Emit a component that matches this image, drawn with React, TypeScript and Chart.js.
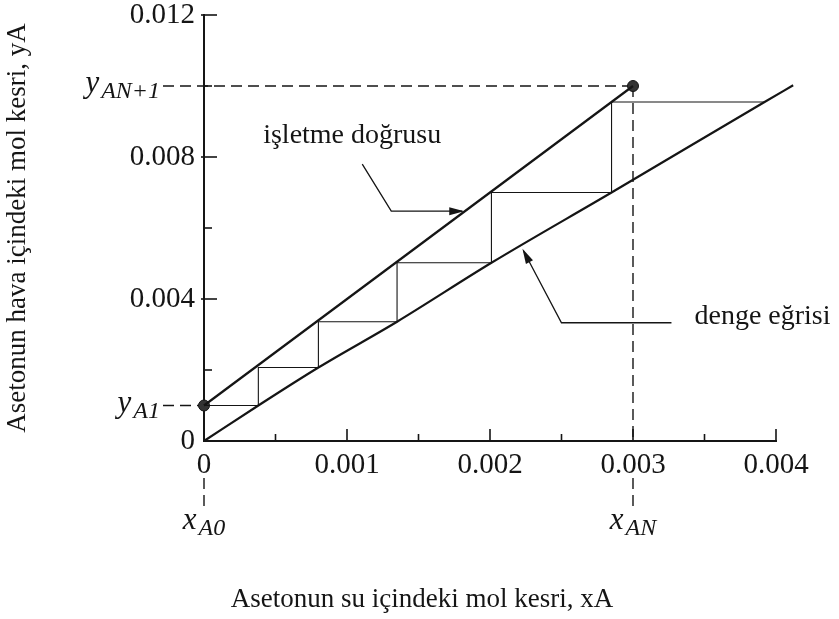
import React, { useEffect, useRef } from "react";
import { Chart, registerables } from "chart.js";

Chart.register(...registerables);

// ---- data ----
const xTickValues = [0, 0.001, 0.002, 0.003, 0.004];
const xTickLabels = ["0", "0.001", "0.002", "0.003", "0.004"];
const yTickValues = [0, 0.004, 0.008, 0.012];
const yTickLabels = ["0", "0.004", "0.008", "0.012"];
const xMinorTicks = [0.0005, 0.0015, 0.0025, 0.0035];
const yMinorTicks = [0.002, 0.006, 0.01];

// operating line (işletme doğrusu)
const operatingX = [0, 0.003];
const operatingY = [0.001, 0.01];
// equilibrium curve (denge eğrisi)
const equilibriumX = [0, 0.00038, 0.0008, 0.00135, 0.00201, 0.00285, 0.00392, 0.00412];
const equilibriumY = [0, 0.001, 0.00207, 0.00336, 0.00502, 0.007, 0.00955, 0.01002];
// stage staircase
const stairX = [0.00392, 0.00285, 0.00285, 0.00201, 0.00201, 0.00135, 0.00135, 0.0008, 0.0008, 0.00038, 0.00038, 0];
const stairY = [0.00955, 0.00955, 0.007, 0.007, 0.00502, 0.00502, 0.00336, 0.00336, 0.00207, 0.00207, 0.001, 0.001];
// end points (terminal compositions)
const endX = [0, 0.003];
const endY = [0.001, 0.01];

// guide labels
const guideX = [0, 0.003];
const guideXLabels = [["x", "A0"], ["x", "AN"]];
const guideY = [0.001, 0.01];
const guideYLabels = [["y", "A1"], ["y", "AN+1"]];

const opLabel = "işletme doğrusu";
const opArrowAt = [0.00182, 0.006475];
const eqLabel = "denge eğrisi";
const eqArrowAt = [0.00222, 0.0055];

const xTitle = "Asetonun su içindeki mol kesri, xA";
const yTitle = "Asetonun hava içindeki mol kesri, yA";

const FONT = "'Liberation Serif', 'DejaVu Serif', serif";
const INK = "#151515";

const toPts = (xs: number[], ys: number[]) => xs.map((v, i) => ({ x: v, y: ys[i] }));

function arrowHead(ctx: CanvasRenderingContext2D, fx: number, fy: number, tx: number, ty: number, len: number, half: number) {
  const a = Math.atan2(ty - fy, tx - fx);
  ctx.beginPath();
  ctx.moveTo(tx, ty);
  ctx.lineTo(tx - len * Math.cos(a) + half * Math.sin(a), ty - len * Math.sin(a) - half * Math.cos(a));
  ctx.lineTo(tx - len * Math.cos(a) - half * Math.sin(a), ty - len * Math.sin(a) + half * Math.cos(a));
  ctx.closePath();
  ctx.fill();
}

function subLabel(ctx: CanvasRenderingContext2D, main: string, sub: string, x: number, y: number, align: "right" | "center") {
  const mainFont = `italic 31px ${FONT}`;
  const subFont = `italic 24px ${FONT}`;
  ctx.font = mainFont;
  const w1 = ctx.measureText(main).width;
  ctx.font = subFont;
  const w2 = ctx.measureText(sub).width;
  const total = w1 + 2 + w2;
  const start = align === "right" ? x - total : x - total / 2;
  ctx.textAlign = "left";
  ctx.textBaseline = "alphabetic";
  ctx.font = mainFont;
  ctx.fillText(main, start, y);
  ctx.font = subFont;
  ctx.fillText(sub, start + w1 + 2, y + 6);
}

const decorPlugin = {
  id: "decor",
  beforeDatasetsDraw(chart: any) {
    const { ctx, scales } = chart;
    const x = scales.x;
    const y = scales.y;
    const x0 = x.getPixelForValue(0);
    const yBase = y.getPixelForValue(0);
    ctx.save();
    ctx.strokeStyle = INK;
    ctx.lineWidth = 1.4;
    ctx.setLineDash([11, 6]);
    const labelRight = x0 - 44;
    // horizontal guides
    guideY.forEach((gv, i) => {
      const py = y.getPixelForValue(gv);
      const endPx = i === 0 ? x0 : x.getPixelForValue(guideX[1]);
      ctx.beginPath();
      ctx.moveTo(labelRight + 3, py);
      ctx.lineTo(endPx, py);
      ctx.stroke();
    });
    // vertical guides
    guideX.forEach((gv, i) => {
      const px = x.getPixelForValue(gv);
      if (i === 1) {
        ctx.beginPath();
        ctx.moveTo(px, y.getPixelForValue(guideY[1]));
        ctx.lineTo(px, yBase);
        ctx.stroke();
      }
      ctx.beginPath();
      ctx.moveTo(px, yBase + 37);
      ctx.lineTo(px, yBase + 66);
      ctx.stroke();
    });
    ctx.restore();
  },
  afterDraw(chart: any) {
    const { ctx, scales } = chart;
    const x = scales.x;
    const y = scales.y;
    const x0 = x.getPixelForValue(0);
    const yBase = y.getPixelForValue(0);
    ctx.save();
    ctx.strokeStyle = INK;
    ctx.fillStyle = INK;
    ctx.lineWidth = 1.6;
    // inward tick marks
    xTickValues.slice(1).forEach((v) => {
      const px = x.getPixelForValue(v);
      ctx.beginPath(); ctx.moveTo(px, yBase); ctx.lineTo(px, yBase - 12); ctx.stroke();
    });
    xMinorTicks.forEach((v) => {
      const px = x.getPixelForValue(v);
      ctx.beginPath(); ctx.moveTo(px, yBase); ctx.lineTo(px, yBase - 7); ctx.stroke();
    });
    yTickValues.slice(1).forEach((v) => {
      const py = y.getPixelForValue(v);
      ctx.beginPath(); ctx.moveTo(x0 - 3, py); ctx.lineTo(x0 + 13, py); ctx.stroke();
    });
    yMinorTicks.forEach((v) => {
      const py = y.getPixelForValue(v);
      ctx.beginPath(); ctx.moveTo(x0, py); ctx.lineTo(x0 + 8, py); ctx.stroke();
    });

    // guide labels
    const labelRight = x0 - 44;
    guideY.forEach((gv, i) => {
      const py = y.getPixelForValue(gv);
      subLabel(ctx, guideYLabels[i][0], guideYLabels[i][1], labelRight, py + 6, "right");
    });
    guideX.forEach((gv, i) => {
      const px = x.getPixelForValue(gv);
      subLabel(ctx, guideXLabels[i][0], guideXLabels[i][1], px, yBase + 88, "center");
    });

    // annotation: operating line
    ctx.lineWidth = 1.3;
    const ox = x.getPixelForValue(opArrowAt[0]);
    const oy = y.getPixelForValue(opArrowAt[1]);
    ctx.beginPath();
    ctx.moveTo(ox - 102, oy - 47);
    ctx.lineTo(ox - 73, oy);
    ctx.lineTo(ox - 2, oy);
    ctx.stroke();
    arrowHead(ctx, ox - 73, oy, ox, oy, 15, 4);
    ctx.font = `28px ${FONT}`;
    ctx.textAlign = "right";
    ctx.textBaseline = "alphabetic";
    ctx.fillText(opLabel, ox - 23, oy - 68);

    // annotation: equilibrium curve
    const ex = x.getPixelForValue(eqArrowAt[0]);
    const ey = y.getPixelForValue(eqArrowAt[1]);
    ctx.beginPath();
    ctx.moveTo(ex + 150, ey + 77);
    ctx.lineTo(ex + 40, ey + 77);
    ctx.lineTo(ex + 2, ey + 5);
    ctx.stroke();
    arrowHead(ctx, ex + 40, ey + 77, ex + 1, ey + 3, 15, 4);
    ctx.textAlign = "left";
    ctx.fillText(eqLabel, ex + 173, ey + 78);

    // x axis title
    ctx.font = `27px ${FONT}`;
    ctx.textAlign = "center";
    ctx.textBaseline = "middle";
    ctx.fillText(xTitle, 422, chart.height - 19);
    ctx.restore();
  },
};

export default function App() {
  const ref = useRef<HTMLCanvasElement | null>(null);
  useEffect(() => {
    if (!ref.current) return;
    const chart = new Chart(ref.current, {
      type: "scatter",
      data: {
        datasets: [
          {
            label: "stairs",
            data: toPts(stairX, stairY),
            showLine: true,
            borderColor: INK,
            borderWidth: 1.1,
            pointRadius: 0,
            clip: false as any,
          },
          {
            label: "operating",
            data: toPts(operatingX, operatingY),
            showLine: true,
            borderColor: INK,
            borderWidth: 2.2,
            pointRadius: 0,
            clip: false as any,
          },
          {
            label: "equilibrium",
            data: toPts(equilibriumX, equilibriumY),
            showLine: true,
            borderColor: INK,
            borderWidth: 2.2,
            pointRadius: 0,
            cubicInterpolationMode: "monotone",
            clip: false as any,
          },
          {
            label: "ends",
            data: toPts(endX, endY),
            showLine: false,
            pointRadius: 5.5,
            pointBackgroundColor: "#333",
            pointBorderColor: INK,
            pointBorderWidth: 1,
            clip: false as any,
          },
        ],
      },
      options: {
        responsive: false,
        animation: false,
        layout: { padding: { left: 0, right: 63, top: 15, bottom: 0 } },
        plugins: { legend: { display: false }, tooltip: { enabled: false } },
        scales: {
          x: {
            type: "linear",
            min: 0,
            max: 0.004,
            afterBuildTicks: (s: any) => { s.ticks = xTickValues.map((v) => ({ value: v })); },
            afterFit: (s: any) => { s.height = 178; s.paddingLeft = 0; s.paddingRight = 0; },
            ticks: {
              padding: 7,
              color: INK,
              font: { family: FONT, size: 29 },
              maxRotation: 0,
              autoSkip: false,
              callback: (v: any) => { const i = xTickValues.indexOf(Number(v)); return i >= 0 ? xTickLabels[i] : ""; },
            },
            grid: { display: false, drawTicks: false },
            border: { display: true, color: INK, width: 2 },
          },
          y: {
            type: "linear",
            min: 0,
            max: 0.012,
            afterBuildTicks: (s: any) => { s.ticks = yTickValues.map((v) => ({ value: v })); },
            afterFit: (s: any) => { s.width = 204; s.paddingTop = 0; s.paddingBottom = 0; },
            ticks: {
              padding: 9,
              color: INK,
              font: { family: FONT, size: 29 },
              autoSkip: false,
              callback: (v: any) => { const i = yTickValues.indexOf(Number(v)); return i >= 0 ? yTickLabels[i] : ""; },
            },
            grid: { display: false, drawTicks: false },
            border: { display: true, color: INK, width: 2 },
            title: {
              display: true,
              text: yTitle,
              color: INK,
              font: { family: FONT, size: 27, weight: "normal" },
              padding: { top: 2, bottom: 0 },
            },
          },
        },
      },
      plugins: [decorPlugin],
    });
    return () => chart.destroy();
  }, []);
  return (
    <div style={{ position: "absolute", left: 0, top: 0, width: 839, height: 619, background: "#fff" }}>
      <canvas ref={ref} width={839} height={619} style={{ display: "block" }} />
    </div>
  );
}
